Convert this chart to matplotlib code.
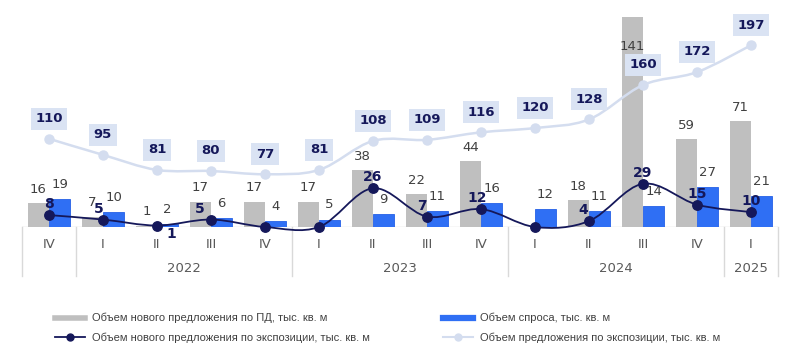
import numpy as np
import matplotlib
matplotlib.use('Agg')
import matplotlib.pyplot as plt
from matplotlib.path import Path
from matplotlib.patches import PathPatch
from matplotlib.lines import Line2D

# ---------------- data ----------------
quarters = ['IV', 'I', 'II', 'III', 'IV', 'I', 'II', 'III', 'IV', 'I', 'II', 'III', 'IV', 'I']
years = ['', '2022', '2023', '2024', '2025']
year_sizes = [1, 4, 4, 4, 1]
new_supply_pd = [16, 7, 1, 17, 17, 17, 38, 22, 44, np.nan, 18, 141, 59, 71]
demand = [19, 10, 2, 6, 4, 5, 9, 11, 16, 12, 11, 14, 27, 21]
new_supply_exp = [8, 5, 1, 5, 0, 0, 26, 7, 12, 0, 4, 29, 15, 10]
supply_exp = [110, 95, 81, 80, 77, 81, 108, 109, 116, 120, 128, 160, 172, 197]
legend_labels = [
    'Объем нового предложения по ПД, тыс. кв. м',
    'Объем нового предложения по экспозиции, тыс. кв. м',
    'Объем спроса, тыс. кв. м',
    'Объем предложения по экспозиции, тыс. кв. м',
]

# ---------------- style ----------------
GRAY = '#bfbfbf'
BLUE = '#2f6ff4'
NAVY = '#15185a'
LIGHT = '#d4ddef'
BOX = '#dae3f3'
TXT = '#404040'
AXTXT = '#595959'
GRID = '#d9d9d9'

plt.rcParams['font.family'] = ['DejaVu Sans']

fig = plt.figure(figsize=(8, 3.64), dpi=100)
W, H = 800, 364
left_px, right_px, base_px, top_px = 22, 778, 227, 10
ax = fig.add_axes([left_px / W, (H - base_px) / H, (right_px - left_px) / W, (base_px - top_px) / H])
ax2 = ax.twinx()

n = len(quarters)
x = np.arange(n)
ymax = 145.6
ax.set_xlim(-0.5, n - 0.5)
ax.set_ylim(0, ymax)
ax2.set_ylim(27.9, 229.8)

for a in (ax, ax2):
    for s in a.spines.values():
        s.set_visible(False)
    a.set_xticks([])
    a.set_yticks([])
ax.patch.set_visible(False)

bw = 0.39
gray_vals = np.array(new_supply_pd, dtype=float)
blue_vals = np.array(demand, dtype=float)
ax.bar(x - bw / 2, np.nan_to_num(gray_vals), width=bw, color=GRAY, zorder=2)
ax.bar(x + bw / 2, blue_vals, width=bw, color=BLUE, edgecolor='#2560e6', linewidth=0.6, zorder=2)
ax.axhline(0, color=GRID, lw=1.0, zorder=1)

xt = ax.get_xaxis_transform()
# bar labels
for i in range(n):
    if not np.isnan(gray_vals[i]):
        if gray_vals[i] > ymax * 0.85:
            # label would leave the plot area: put it inside the top of the bar
            ax.annotate(f'{int(gray_vals[i])}', (x[i] - bw / 2, 1), xycoords=xt,
                        xytext=(0, -26.6), textcoords='offset points', ha='center',
                        va='center', fontsize=9.5, color=TXT, zorder=5)
        else:
            ax.annotate(f'{int(gray_vals[i])}', (x[i] - bw / 2, gray_vals[i]), xytext=(0, 10),
                        textcoords='offset points', ha='center', va='center', fontsize=9.5,
                        color=TXT, zorder=5)
    ax.annotate(f'{int(blue_vals[i])}', (x[i] + bw / 2, blue_vals[i]), xytext=(0, 10.5),
                textcoords='offset points', ha='center', va='center', fontsize=9.5,
                color=TXT, zorder=5)


def smooth_path(xs, ys):
    pts = np.column_stack([xs, ys]).astype(float)
    m = len(pts)
    verts = [pts[0]]
    codes = [Path.MOVETO]
    for i in range(m - 1):
        p0 = pts[i - 1] if i > 0 else pts[i]
        p1 = pts[i]
        p2 = pts[i + 1]
        p3 = pts[i + 2] if i + 2 < m else pts[i + 1]
        c1 = p1 + (p2 - p0) / 6.0
        c2 = p2 - (p3 - p1) / 6.0
        verts += [c1, c2, p2]
        codes += [Path.CURVE4] * 3
    return Path(verts, codes)


# dark navy smoothed line (primary axis)
dark_vals = np.array(new_supply_exp, dtype=float)
ax.add_patch(PathPatch(smooth_path(x, dark_vals), facecolor='none', edgecolor=NAVY,
                       lw=1.3, zorder=6, clip_on=False))
ax.plot(x, dark_vals, ls='none', marker='o', ms=6.8, color=NAVY, zorder=7, clip_on=False)
dark_dx = [0, -4, 14, -11, 0, 0, 0, -5, -4, 0, -6, 0, 0, 0]
dark_dy = [11, 11, -8, 11, 11, 11, 11, 11, 11, 11, 11, 11, 11, 11]
for i in range(n):
    if dark_vals[i] > 0:
        ax.annotate(f'{int(dark_vals[i])}', (x[i], dark_vals[i]),
                    xytext=(dark_dx[i] * 0.72, dark_dy[i] * 0.72), textcoords='offset points',
                    ha='center', va='center', fontsize=10, fontweight='bold', color=NAVY, zorder=8)

# light smoothed line (secondary axis)
light_vals = np.array(supply_exp, dtype=float)
ax2.add_patch(PathPatch(smooth_path(x, light_vals), facecolor='none', edgecolor=LIGHT,
                        lw=1.8, zorder=3, clip_on=False))
ax2.plot(x, light_vals, ls='none', marker='o', ms=6.5, color=LIGHT, zorder=4, clip_on=False)
for i in range(n):
    ax2.annotate(f'{int(light_vals[i])}', (x[i], light_vals[i]), xytext=(0, 14.5),
                 textcoords='offset points', ha='center', va='center', fontsize=9.5,
                 fontweight='bold', color=NAVY, zorder=9,
                 bbox=dict(boxstyle='square,pad=0.35', fc=BOX, ec='none'))

# category axis (table style)
ah = base_px - top_px
low = -49 / ah
bounds = [-0.5]
acc = -0.5
for s in year_sizes:
    acc += s
    bounds.append(acc)
for b in bounds:
    ax.plot([b, b], [0, low], transform=xt, color=GRID, lw=1.0, clip_on=False, zorder=1)
for i, q in enumerate(quarters):
    ax.text(x[i], -17 / ah, q, transform=xt, ha='center', va='center', fontsize=9.5,
            color=AXTXT)
start = 0
for y_lab, s in zip(years, year_sizes):
    if y_lab:
        ax.text(start + (s - 1) / 2, -41.5 / ah, y_lab, transform=xt, ha='center',
                va='center', fontsize=9.5, color=AXTXT)
    start += s

# legend
h_gray = Line2D([], [], color=GRAY, lw=4)
h_dark = Line2D([], [], color=NAVY, lw=1.3, marker='o', ms=5)
h_blue = Line2D([], [], color=BLUE, lw=4.5)
h_light = Line2D([], [], color=LIGHT, lw=1.5, marker='o', ms=5)
leg_font = dict(family=['Liberation Sans', 'DejaVu Sans'], size=8)
for handles, labels, xpx in [([h_gray, h_dark], legend_labels[:2], 55),
                             ([h_blue, h_light], legend_labels[2:], 443)]:
    lg = fig.legend(handles, labels, loc='upper left', bbox_to_anchor=(xpx / W, 1 - 313 / H),
                    frameon=False, prop=leg_font, handlelength=2.7, handletextpad=0.6,
                    labelspacing=0.85, borderpad=0, borderaxespad=0)
    for t in lg.get_texts():
        t.set_color(TXT)

fig.savefig('out.png', dpi=100)
